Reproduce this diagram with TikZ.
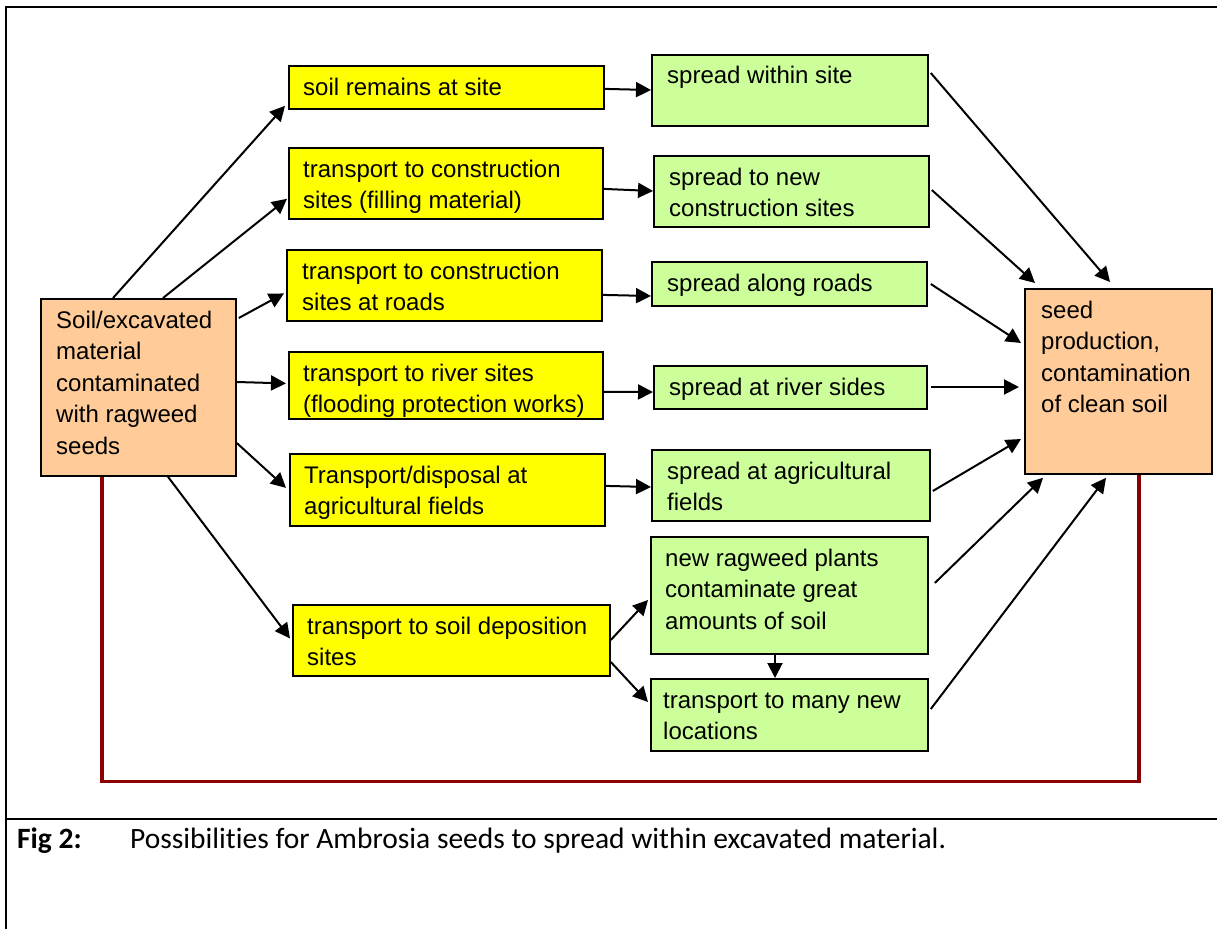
\documentclass[tikz,border=0pt]{standalone}
\usepackage{fontspec}
\setmainfont{Liberation Sans}
\newfontfamily\capfont[Ligatures=NoCommon]{Carlito}
\usetikzlibrary{arrows.meta,calc}
\definecolor{yel}{HTML}{FFFF00}
\definecolor{grn}{HTML}{CCFF99}
\definecolor{org}{HTML}{FFCC99}
\definecolor{dred}{HTML}{8B0000}
\begin{document}
\begin{tikzpicture}[x=1pt,y=-1pt,
  box/.style={draw=black, line width=1.8pt, inner sep=0pt, anchor=north west},
  ybox/.style={box, fill=yel},
  gbox/.style={box, fill=grn},
  obox/.style={box, fill=org},
  txt/.style={anchor=north west, inner sep=0pt, align=left, font=\fontsize{24}{31.5}\selectfont},
  arr/.style={line width=2pt, -{Triangle[length=15pt,width=15pt]}},
  back/.style={draw=dred, line width=3.2pt, line join=miter},
  frame/.style={line width=2pt},
  captxt/.style={anchor=base west, inner sep=0pt, font=\capfont\fontsize{29.5}{34}\selectfont}
]
\useasboundingbox (0,0) rectangle (1217,929);
\fill[white] (0,0) rectangle (1217,929);

% frame
\draw[frame] (6,929) -- (6,7) -- (1217,7);
\draw[frame] (6,819) -- (1217,819);

% boxes
\node[obox, minimum width=195pt, minimum height=177pt] (L) at (40,298) {};
\node[obox, minimum width=187pt, minimum height=185pt] (R) at (1024,288) {};

\node[ybox, minimum width=315pt, minimum height=43pt] (y1) at (288,65) {};
\node[ybox, minimum width=314pt, minimum height=71pt] (y2) at (288,147) {};
\node[ybox, minimum width=315pt, minimum height=71pt] (y3) at (286,249) {};
\node[ybox, minimum width=314pt, minimum height=67pt] (y4) at (288,351) {};
\node[ybox, minimum width=315pt, minimum height=72pt] (y5) at (289,453) {};
\node[ybox, minimum width=317pt, minimum height=71pt] (y6) at (292,604) {};

\node[gbox, minimum width=276pt, minimum height=71pt] (g1) at (651,54) {};
\node[gbox, minimum width=275pt, minimum height=71pt] (g2) at (653,155) {};
\node[gbox, minimum width=275pt, minimum height=44pt] (g3) at (651,261) {};
\node[gbox, minimum width=273pt, minimum height=43pt] (g4) at (653,365) {};
\node[gbox, minimum width=278pt, minimum height=71pt] (g5) at (651,449) {};
\node[gbox, minimum width=277pt, minimum height=117pt] (g6) at (650,536) {};
\node[gbox, minimum width=277pt, minimum height=72pt] (g7) at (650,678) {};

% texts
\node[txt] (Lt) at ($(L.north west)+(16,8)$) {\strut Soil/excavated\\material\\contaminated\\with ragweed\\seeds};
\node[txt] (Rt) at ($(R.north west)+(17,8)$) {\strut seed\\production,\\contamination\\of clean soil};
\node[txt] (y1t) at ($(y1.north west)+(15,8)$) {\strut soil remains at site};
\node[txt] (y2t) at ($(y2.north west)+(15,8)$) {\strut transport to construction\\sites (filling material)};
\node[txt] (y3t) at ($(y3.north west)+(16,8)$) {\strut transport to construction\\sites at roads};
\node[txt] (y4t) at ($(y4.north west)+(15,8)$) {\strut transport to river sites\\(flooding protection works)};
\node[txt] (y5t) at ($(y5.north west)+(15,8)$) {\strut Transport/disposal at\\agricultural fields};
\node[txt] (y6t) at ($(y6.north west)+(15,8)$) {\strut transport to soil deposition\\sites};
\node[txt] (g1t) at ($(g1.north west)+(16,7)$) {\strut spread within site};
\node[txt] (g2t) at ($(g2.north west)+(16,8)$) {\strut spread to new\\construction sites};
\node[txt] (g3t) at ($(g3.north west)+(16,8)$) {\strut spread along roads};
\node[txt] (g4t) at ($(g4.north west)+(16,8)$) {\strut spread at river sides};
\node[txt] (g5t) at ($(g5.north west)+(16,8)$) {\strut spread at agricultural\\fields};
\node[txt] (g6t) at ($(g6.north west)+(15,8)$) {\strut new ragweed plants\\contaminate great\\amounts of soil};
\node[txt] (g7t) at ($(g7.north west)+(13,8)$) {\strut transport to many new\\locations};

% left arrows
\draw[arr] ($(L.north west)+(73,0)$) -- ($(y1.south west)+(-3,-4)$);
\draw[arr] ($(L.north west)+(123,0)$) -- ($(y2.south west)+(-1,-21)$);
\draw[arr] ($(L.north east)+(2,20)$) -- ($(y3.west)+(-2,8)$);
\draw[arr] ($(L.north east)+(0,84)$) -- ($(y4.west)+(-2,-2)$);
\draw[arr] ($(L.north east)+(0,145)$) -- ($(y5.west)+(-3,-2)$);
\draw[arr] ($(L.south west)+(128,0)$) -- ($(y6.west)+(-2,-2)$);

% yellow to green
\draw[arr] ($(y1.east)+(0,1.5)$) -- ($(g1.north west)+(0,36)$);
\draw[arr] ($(y2.east)+(0,5.5)$) -- ($(g2.north west)+(0,36)$);
\draw[arr] ($(y3.east)+(0,9.5)$) -- ($(g3.north west)+(0,35)$);
\draw[arr] ($(y4.east)+(0,6.5)$) -- ($(g4.north west)+(0,27)$);
\draw[arr] ($(y5.east)+(0,-4)$) -- ($(g5.north west)+(0,38)$);
\draw[arr] ($(y6.north east)+(0,36)$) -- ($(g6.north west)+(-2,64)$);
\draw[arr] ($(y6.north east)+(0,58)$) -- ($(g7.north west)+(-2,24)$);
\draw[arr] ($(g6.south west)+(125,0)$) -- ($(g7.north west)+(125,0)$);

% green to right
\draw[arr] ($(g1.north east)+(2,19)$) -- ($(R.north west)+(86,-6)$);
\draw[arr] ($(g2.north east)+(2,35)$) -- ($(R.north west)+(11,-5)$);
\draw[arr] ($(g3.north east)+(3,23)$) -- ($(R.north west)+(-3,55)$);
\draw[arr] ($(g4.north east)+(3,22)$) -- ($(R.north west)+(-5,99)$);
\draw[arr] ($(g5.north east)+(2,42)$) -- ($(R.north west)+(-3,151)$);
\draw[arr] ($(g6.north east)+(6,47)$) -- ($(R.south west)+(19,3)$);
\draw[arr] ($(g7.north east)+(2,31)$) -- ($(R.south west)+(82,3)$);

% feedback line
\draw[back] ($(L.south west)+(62,0)$) -- ++(0,305) -| ($(R.south west)+(115,0)$);

% caption
\node[captxt, font=\capfont\bfseries\fontsize{29.5}{34}\selectfont] (fig) at (17,848) {Fig 2:};
\node[captxt] (cap) at (130,848) {Possibilities for Ambrosia seeds to spread within excavated material.};
\end{tikzpicture}
\end{document}
